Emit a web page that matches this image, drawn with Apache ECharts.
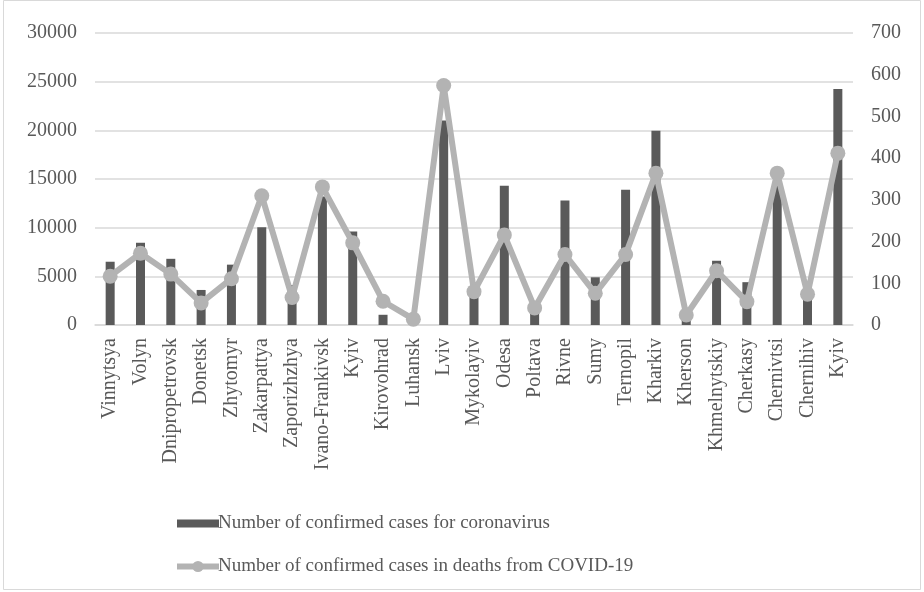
<!DOCTYPE html>
<html>
<head>
<meta charset="utf-8">
<script src="https://cdn.jsdelivr.net/npm/echarts@6/dist/echarts.min.js"></script>
<style>
html,body{margin:0;padding:0;background:#fff;}
#chart{width:924px;height:592px;}
</style>
</head>
<body>
<div id="chart"></div>
<script>
const categories = ["Vinnytsya","Volyn","Dnipropetrovsk","Donetsk","Zhytomyr","Zakarpattya","Zaporizhzhya","Ivano-Frankivsk","Kyiv","Kirovohrad","Luhansk","Lviv","Mykolayiv","Odesa","Poltava","Rivne","Sumy","Ternopil","Kharkiv","Kherson","Khmelnytskiy","Cherkasy","Chernivtsi","Chernihiv","Kyiv"];
const casesName = "Number of confirmed cases for coronavirus";
const deathsName = "Number of confirmed cases in deaths from COVID-19";
const cases = [6500, 8450, 6800, 3600, 6200, 10050, 4100, 13200, 9600, 1050, 300, 21000, 3000, 14300, 1500, 12800, 4900, 13900, 19950, 700, 6600, 4400, 14500, 3000, 24250];
const deaths = [117, 172, 122, 53, 111, 310, 66, 331, 197, 57, 14, 574, 80, 216, 41, 169, 76, 169, 364, 24, 130, 56, 364, 74, 412];

const FONT = "'Liberation Serif','Times New Roman',serif";
const TXT = "#595959";
const chart = echarts.init(document.getElementById('chart'), null, {renderer:'canvas'});
chart.setOption({
  animation:false,
  backgroundColor:'#fff',
  graphic:[{type:'rect',shape:{x:3.5,y:0.5,width:917,height:589},style:{fill:'none',stroke:'#d9d9d9',lineWidth:1}}],
  grid:{left:95,right:71,top:33,bottom:267,containLabel:false},
  legend:{
    orient:'vertical', left:169, top:509, itemGap:24, itemWidth:42, itemHeight:14,
    textStyle:{fontFamily:FONT,fontSize:19,color:TXT,lineHeight:19,padding:[0,0,0,-6]},
    data:[
      {name:casesName, icon:'path://M0,0H42V8H0Z'},
      {name:deathsName, lineStyle:{width:6,color:'#b3b3b3'}}
    ]
  },
  xAxis:{
    type:'category', data:categories,
    axisLine:{show:true,lineStyle:{color:'#d9d9d9',width:1.5}},
    axisTick:{show:false},
    axisLabel:{rotate:90,interval:0,margin:13,fontFamily:FONT,fontSize:20,color:TXT}
  },
  yAxis:[
    {type:'value',min:0,max:30000,interval:5000,
     axisLine:{show:false},axisTick:{show:false},
     splitLine:{lineStyle:{color:'#d9d9d9',width:1.5}},
     axisLabel:{margin:18,fontFamily:FONT,fontSize:20,color:TXT,formatter:v=>String(v)}},
    {type:'value',min:0,max:700,interval:100,position:'right',
     axisLine:{show:false},axisTick:{show:false},splitLine:{show:false},
     axisLabel:{margin:18,fontFamily:FONT,fontSize:20,color:TXT,formatter:v=>String(v)}}
  ],
  series:[
    {name:casesName,type:'bar',data:cases,barWidth:9,yAxisIndex:0,
     itemStyle:{color:'#5a5a5a'}},
    {name:deathsName,type:'line',data:deaths,yAxisIndex:1,
     symbol:'circle',symbolSize:15,
     lineStyle:{color:'#b3b3b3',width:6},
     itemStyle:{color:'#b3b3b3'}}
  ]
});
</script>
</body>
</html>
